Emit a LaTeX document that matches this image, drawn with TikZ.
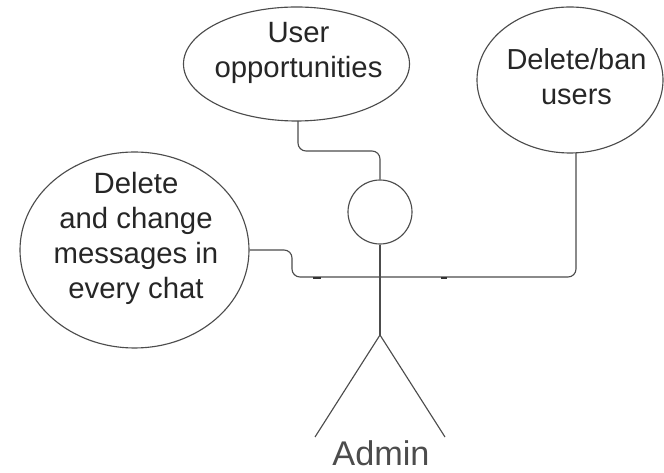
\documentclass[tikz,border=0pt]{standalone}
\usepackage{fontspec}
\setmainfont{Liberation Sans}
\usepackage{tikz}
\usetikzlibrary{shapes.geometric, arrows, positioning, fit}
\tikzstyle{usecase} = [ellipse, draw=black!70, line width=0.85pt, inner sep=0pt]
\tikzstyle{casetext} = [text centered, text=black!85]
\tikzstyle{link}    = [draw=black!70, line width=0.85pt, rounded corners=6pt]
\tikzstyle{limb}    = [draw=black!70, line width=0.85pt]
\tikzstyle{tick}    = [draw=black!80, line width=1.5pt]
\tikzset{every node/.style={align=center}}

\begin{document}
\begin{tikzpicture}[x=0.75pt,y=-0.75pt]
    \useasboundingbox (0,0) rectangle (664,473);
    \node (opp) at (296.5,64) [usecase, minimum width=169.5pt, minimum height=85.5pt] {};
    \node (ban) at (570,80)   [usecase, minimum width=139.5pt, minimum height=109.5pt] {};
    \node (msg) at (134.5,250) [usecase, minimum width=171.75pt, minimum height=147pt] {};
    \node (opptext) at (298.5,53) [casetext, font=\fontsize{22}{26.25}\selectfont] {User\\opportunities};
    \node (bantext) at (576.5,77) [casetext, font=\fontsize{21.7}{26.25}\selectfont] {Delete/ban\\users};
    \node (msgtext) at (136,238.5) [casetext, font=\fontsize{22}{26.25}\selectfont] {Delete\\and change\\messages in\\every chat};
    \node (head) at (380,212)  [circle, draw=black!70, line width=0.85pt, minimum size=48pt, inner sep=0pt] {};
    \coordinate (hip)   at (380,335);
    \coordinate (lfoot) at (315,437);
    \coordinate (rfoot) at (445,437);
    \coordinate (oppend) at (298,121);
    \coordinate (banend) at (576,153);
    \node (name) at (381,453) [text=black!70, font=\fontsize{25.7}{28}\selectfont] {Admin};

    % body and legs
    \draw [limb] (head.south) -- (hip);
    \draw [limb] (lfoot) -- (hip) -- (rfoot);
    % top ellipse down to the head
    \draw [link] (oppend) -- (298,151) -- (380,151) -- (head.north);
    % arms: left ellipse across to right ellipse
    \draw [link] (msg.east) -- (292,250) -- (292,277) -- (576,277) -- (banend);
    \draw [tick] (313,278) -- (321,278);
    \draw [tick] (441,278) -- (447,278);
\end{tikzpicture}
\end{document}
